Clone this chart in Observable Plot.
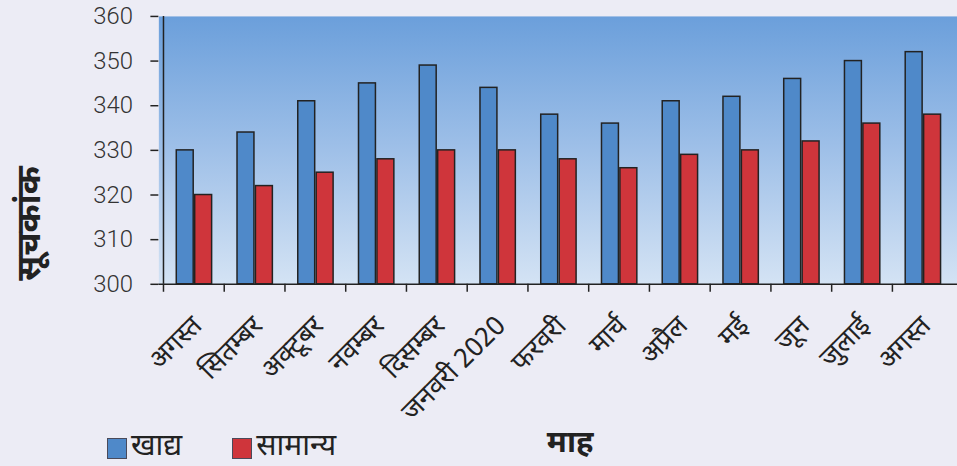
<!DOCTYPE html>
<html>
<head>
<meta charset="utf-8">
<script src="https://cdn.jsdelivr.net/npm/d3@7"></script>
<script src="https://cdn.jsdelivr.net/npm/@observablehq/plot@0.6"></script>
<style>
  html, body { margin: 0; padding: 0; background: #ececf5; overflow: hidden; }
  #wrap { position: relative; width: 957px; height: 466px; overflow: hidden; }
  #legend { position: absolute; left: 107px; top: 428px; display: flex; align-items: center;
    font-family: "Noto Sans Devanagari", "Noto Sans", sans-serif; font-size: 30px; color: #222; line-height: 40px; }
  .sw { display: inline-block; width: 18px; height: 19px; border: 1.5px solid #4a4a5a; margin-right: 4px; }
  .item { display: flex; align-items: center; margin-right: 50px; }
</style>
</head>
<body>
<div id="wrap"><div id="chart"></div>
<div id="legend"></div></div>
<script>
const months = ["अगस्त","सितम्बर","अक्टूबर","नवम्बर","दिसम्बर","जनवरी 2020","फरवरी","मार्च","अप्रैल","मई","जून","जुलाई","अगस्त"];
const food = [330, 334, 341, 345, 349, 344, 338, 336, 341, 342, 346, 350, 352];
const general = [320, 322, 325, 328, 330, 330, 328, 326, 329, 330, 332, 336, 338];
const seriesNames = ["खाद्य", "सामान्य"];
const seriesColors = ["#4f89c9", "#cf353b"];
const yTicks = [300, 310, 320, 330, 340, 350, 360];
const yLabel = "सूचकांक";
const xLabel = "माह";

const idx = d3.range(months.length);
const rows = idx.map(i => ({i, food: food[i], general: general[i]}));
const W = 961, ML = 159;
const bw = (W - ML) / months.length;
const font = '"Noto Sans Devanagari", "Noto Sans", sans-serif';

const plot = Plot.plot({
  width: W, height: 466,
  marginLeft: ML, marginRight: 0, marginTop: 16, marginBottom: 181,
  style: {background: "transparent", fontFamily: font, color: "#222", overflow: "visible"},
  x: {type: "band", domain: idx, padding: 0, axis: null},
  y: {domain: [yTicks[0], yTicks[yTicks.length - 1]], axis: null},
  marks: [
    Plot.frame({fill: "url(#bgGrad)", stroke: null}),
    Plot.barY(rows, {x: "i", y1: () => yTicks[0], y2: "food", fill: seriesColors[0], stroke: "#222", strokeWidth: 1.5, insetLeft: 13, insetRight: 31}),
    Plot.barY(rows, {x: "i", y1: () => yTicks[0], y2: "general", fill: seriesColors[1], stroke: "#222", strokeWidth: 1.5, insetLeft: 31.5, insetRight: 12.5}),
    Plot.ruleY([yTicks[0]], {stroke: "#222", strokeWidth: 1.5}),
    Plot.ruleX([0], {dx: -bw / 2, stroke: "#222", strokeWidth: 1.5}),
    Plot.axisY({ticks: yTicks, tickSize: 8, tickPadding: 18, fontSize: 24, fill: "#333", stroke: "#222", strokeWidth: 1.5, fontFamily: 'Roboto, "Liberation Sans", sans-serif', fontWeight: 300, label: null}),
    Plot.axisX({ticks: idx, tickSize: 8, tickFormat: () => "", dx: -bw / 2, stroke: "#222", strokeWidth: 1.5, label: null}),
    Plot.axisX({ticks: idx, tickSize: 0, tickFormat: i => months[i], tickRotate: -45, tickPadding: 37, dx: 3, fontSize: 27, fill: "#222", label: null}),
    Plot.text([xLabel], {frameAnchor: "bottom", dx: 12, dy: 168, fontSize: 31, fontWeight: "bold", fill: "#222"}),
    Plot.text([yLabel], {frameAnchor: "left", dx: -130, dy: 131, rotate: -90, fontSize: 34, fontWeight: "bold", fill: "#222"})
  ]
});

const ns = "http://www.w3.org/2000/svg";
const defs = document.createElementNS(ns, "defs");
const grad = document.createElementNS(ns, "linearGradient");
grad.setAttribute("id", "bgGrad");
grad.setAttribute("x1", "0"); grad.setAttribute("y1", "0");
grad.setAttribute("x2", "0"); grad.setAttribute("y2", "1");
[["0", "#6b9fdb"], ["0.5", "#9fc0e8"], ["1", "#d4e3f4"]].forEach(([o, c]) => {
  const s = document.createElementNS(ns, "stop");
  s.setAttribute("offset", o); s.setAttribute("stop-color", c);
  grad.appendChild(s);
});
defs.appendChild(grad);
plot.insertBefore(defs, plot.firstChild);
document.getElementById("chart").appendChild(plot);

const legend = document.getElementById("legend");
seriesNames.forEach((n, k) => {
  const it = document.createElement("span");
  it.className = "item";
  const sw = document.createElement("span");
  sw.className = "sw"; sw.style.background = seriesColors[k];
  it.appendChild(sw);
  it.appendChild(document.createTextNode(n));
  legend.appendChild(it);
});
</script>
</body>
</html>
